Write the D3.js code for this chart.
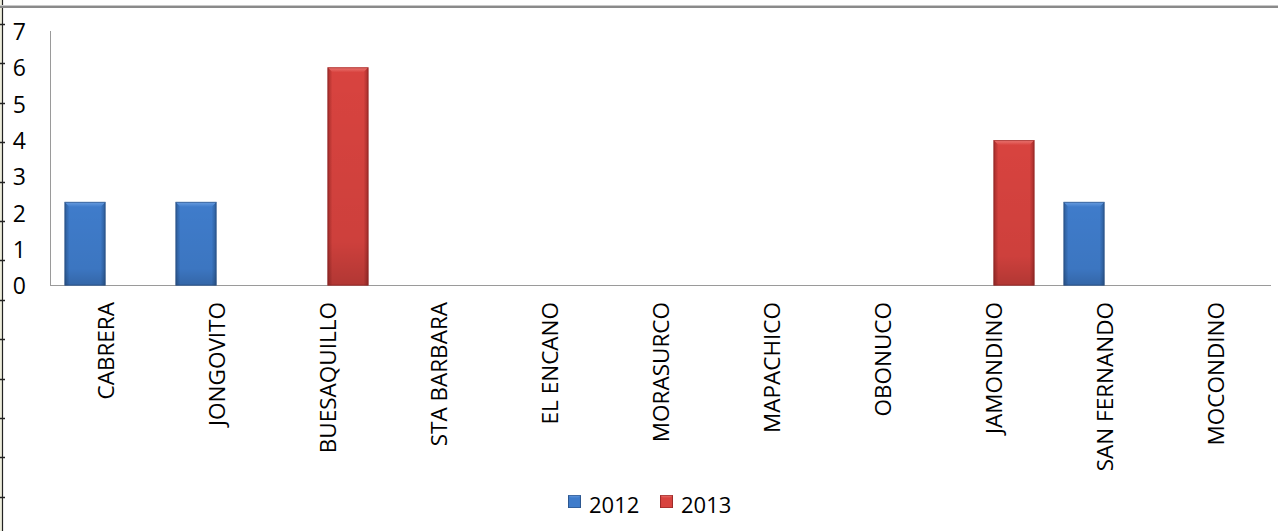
<!DOCTYPE html>
<html>
<head>
<meta charset="utf-8">
<script src="https://cdn.jsdelivr.net/npm/d3@7"></script>
<style>
  html, body { margin: 0; padding: 0; background: #fff; }
  svg { display: block; }
  text { font-family: "Open Sans", sans-serif; fill: #000; }
</style>
</head>
<body>
<svg id="chart" width="1278" height="531"></svg>
<script>
// Sectors and yearly counts
const categories = ["CABRERA", "JONGOVITO", "BUESAQUILLO", "STA BARBARA", "EL ENCANO",
  "MORASURCO", "MAPACHICO", "OBONUCO", "JAMONDINO", "SAN FERNANDO", "MOCONDINO"];
const series = ["2012", "2013"];
const values2012 = [2.3, 2.3, 0, 0, 0, 0, 0, 0, 0, 2.3, 0];
const values2013 = [0, 0, 6, 0, 0, 0, 0, 0, 4, 0, 0];
const yTicks = [0, 1, 2, 3, 4, 5, 6, 7];

const seriesValues = { "2012": values2012, "2013": values2013 };
const palette = {
  "2012": { edge: "#2c5b97", mid: "#3f7ccb", top: "#6b9ee0", line: "#2a4f80" },
  "2013": { edge: "#a42c2a", mid: "#d8433f", top: "#ec7a76", line: "#8e2624" }
};

const svg = d3.select("#chart");
const W = 1278, H = 531;

// frame of the surrounding sheet
svg.append("rect").attr("x", 0).attr("y", 0).attr("width", 2).attr("height", H).attr("fill", "#eeeedd");
svg.append("line").attr("x1", 2.5).attr("x2", 2.5).attr("y1", 0).attr("y2", H)
  .attr("stroke", "#222").attr("stroke-width", 1.2);
for (let yy = 24; yy < H; yy += 39.4) {
  svg.append("line").attr("x1", 0).attr("x2", 5).attr("y1", Math.round(yy) + 0.5).attr("y2", Math.round(yy) + 0.5)
    .attr("stroke", "#222").attr("stroke-width", 1.5);
}
svg.append("rect").attr("x", 0).attr("y", 5).attr("width", W).attr("height", 1).attr("fill", "#c8c8c8");
svg.append("rect").attr("x", 0).attr("y", 6).attr("width", W).attr("height", 2).attr("fill", "#8a8a8a");

// gradients
const defs = svg.append("defs");
series.forEach(s => {
  const p = palette[s];
  const g = defs.append("linearGradient").attr("id", "body" + s)
    .attr("x1", "0%").attr("x2", "100%").attr("y1", "0%").attr("y2", "0%");
  g.append("stop").attr("offset", "0%").attr("stop-color", p.edge);
  g.append("stop").attr("offset", "12%").attr("stop-color", p.mid);
  g.append("stop").attr("offset", "88%").attr("stop-color", p.mid);
  g.append("stop").attr("offset", "100%").attr("stop-color", p.edge);
  const v = defs.append("linearGradient").attr("id", "shade" + s)
    .attr("x1", "0%").attr("x2", "0%").attr("y1", "0%").attr("y2", "100%");
  v.append("stop").attr("offset", "0%").attr("stop-color", "#000").attr("stop-opacity", 0);
  v.append("stop").attr("offset", "80%").attr("stop-color", "#000").attr("stop-opacity", 0.05);
  v.append("stop").attr("offset", "100%").attr("stop-color", "#000").attr("stop-opacity", 0.18);
  const t = defs.append("linearGradient").attr("id", "cap" + s)
    .attr("x1", "0%").attr("x2", "0%").attr("y1", "0%").attr("y2", "100%");
  t.append("stop").attr("offset", "0%").attr("stop-color", p.top);
  t.append("stop").attr("offset", "100%").attr("stop-color", p.mid);
});

// scales
const x0 = d3.scaleBand().domain(categories).range([50, 1271]).paddingInner(0).paddingOuter(0);
const bw = x0.bandwidth();
const x1 = d3.scaleBand().domain(series).range([bw * 0.131, bw * 0.869]);
const y = d3.scaleLinear().domain([0, 7]).range([285.5, 31]);

// axes lines
svg.append("line").attr("x1", 50.5).attr("x2", 50.5).attr("y1", y(7)).attr("y2", y(0))
  .attr("stroke", "#9a9a9a").attr("stroke-width", 1);
svg.append("line").attr("x1", 50).attr("x2", 1271).attr("y1", y(0)).attr("y2", y(0))
  .attr("stroke", "#9a9a9a").attr("stroke-width", 1);

// y tick labels
const yAxis = d3.axisLeft(y).tickValues(yTicks).tickSize(0).tickPadding(0).tickFormat(d3.format("d"));
const ya = svg.append("g").attr("transform", "translate(26,1)").call(yAxis);
ya.select(".domain").remove();
ya.selectAll("text").attr("font-size", 23).attr("font-family", "'Open Sans', sans-serif").attr("fill", "#000");

// x category labels
const xAxis = d3.axisBottom(x0).tickSize(0).tickPadding(0);
const xa = svg.append("g").call(xAxis);
xa.select(".domain").remove();
xa.selectAll("text")
  .attr("font-size", 22.5).attr("font-family", "'Open Sans', sans-serif").attr("fill", "#000")
  .attr("text-anchor", "end")
  .attr("transform", "translate(1,302) rotate(-90)")
  .attr("x", 0).attr("y", 0).attr("dy", "0.35em");

// bars
const groups = svg.append("g").selectAll("g").data(categories).join("g")
  .attr("transform", d => `translate(${x0(d)},0)`);
series.forEach(s => {
  const vals = seriesValues[s];
  groups.filter((d, i) => vals[i] > 0).each(function(d) {
    const v = vals[categories.indexOf(d)];
    const g = d3.select(this);
    const bx = x1(s), bwid = x1.bandwidth();
    const top = y(v), h = y(0) - y(v);
    g.append("rect").attr("x", bx).attr("y", top).attr("width", bwid).attr("height", h)
      .attr("fill", `url(#body${s})`);
    g.append("rect").attr("x", bx).attr("y", top).attr("width", bwid).attr("height", h)
      .attr("fill", `url(#shade${s})`);
    // bevelled top edge
    const c = 5;
    g.append("path")
      .attr("d", `M${bx},${top} L${bx + bwid},${top} L${bx + bwid - c},${top + c} L${bx + c},${top + c} Z`)
      .attr("fill", `url(#cap${s})`);
    g.append("rect").attr("x", bx + 0.5).attr("y", top + 0.5).attr("width", bwid - 1).attr("height", h - 1)
      .attr("fill", "none").attr("stroke", palette[s].line).attr("stroke-opacity", 0.6).attr("stroke-width", 1);
  });
});

// legend
const legend = svg.append("g");
const legendX = { "2012": 568, "2013": 660 };
series.forEach(s => {
  const lg = legend.append("g").attr("transform", `translate(${legendX[s]},495)`);
  lg.append("rect").attr("width", 13).attr("height", 13).attr("fill", `url(#body${s})`);
  lg.append("path").attr("d", "M0,0 L13,0 L10,3 L3,3 Z").attr("fill", `url(#cap${s})`);
  lg.append("rect").attr("x", 0.5).attr("y", 0.5).attr("width", 12).attr("height", 12)
    .attr("fill", "none").attr("stroke", palette[s].line).attr("stroke-opacity", 0.6);
  lg.append("text").attr("x", 21).attr("y", 18).attr("font-size", 22).text(s);
});
</script>
</body>
</html>
